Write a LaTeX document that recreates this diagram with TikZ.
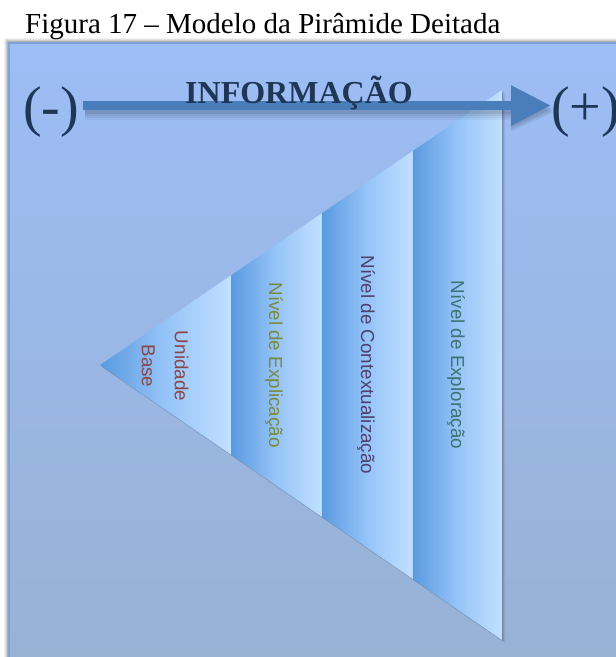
\documentclass[tikz,border=0pt]{standalone}
\usepackage{fontspec}
\setmainfont{Liberation Serif}
\newfontfamily\labelsans{Liberation Sans}
\usetikzlibrary{calc,arrows.meta}

\definecolor{paneltop}{HTML}{9CBDF6}
\definecolor{panelmid}{HTML}{8EABDB}
\definecolor{panelbot}{HTML}{98B2D4}
\definecolor{panelrim}{HTML}{7FA2D8}
\definecolor{stripedark}{HTML}{5A9AE0}
\definecolor{stripemid}{HTML}{96C4F8}
\definecolor{stripelight}{HTML}{C2E0FF}
\definecolor{arrowblue}{HTML}{4A7EBB}
\definecolor{navy}{HTML}{1F3756}
\definecolor{unitcol}{HTML}{8A4646}
\definecolor{explcol}{HTML}{7A8A3C}
\definecolor{contcol}{HTML}{4F4070}
\definecolor{explorcol}{HTML}{3F7272}

\tikzset{
  stripe/.style={left color=stripedark, right color=stripelight, middle color=stripemid},
  levellabel/.style={font=\labelsans\fontsize{18.8}{22}\selectfont, rotate=-90, inner sep=0pt},
  signlabel/.style={font=\fontsize{56}{60}\selectfont, text=navy, inner sep=0pt, anchor=base west},
  infoarrow/.style={draw=arrowblue, line width=9pt,
    -{Triangle[length=40pt,width=38pt]}},
}

\begin{document}
\begin{tikzpicture}[x=1pt,y=-1pt]
  \useasboundingbox (0,0) rectangle (616,657);
  \fill[white] (0,0) rectangle (616,657);

  % caption
  \node[anchor=base west, inner sep=0pt, font=\fontsize{29}{33}\selectfont] (caption)
    at (25,33) {Figura 17 -- Modelo da Pirâmide Deitada};

  % panel with soft outer shadow
  \foreach \o/\a in {4/0.05,3/0.07,2/0.09,1/0.12}
    \fill[black, opacity=\a] (8-\o,42-\o) rectangle (620,660);
  \shade[top color=paneltop, middle color=panelmid, bottom color=panelbot]
    (8,42) rectangle (620,660);
  \draw[panelrim, line width=1.6pt] (620,42.8) -- (8.8,42.8) -- (8.8,660);

  % lying pyramid: apex on the left, base on the right
  \coordinate (apex) at (100,365);
  \coordinate (top) at (502,90);
  \coordinate (bot) at (502,640);
  \foreach \o/\a in {3/0.06,2/0.08,1/0.12}
    \fill[black, opacity=\a] ([xshift=\o pt,yshift=-\o pt]apex)
      -- ([xshift=\o pt,yshift=-\o pt]top) -- ([xshift=\o pt,yshift=-\o pt]bot) -- cycle;

  \coordinate (t1) at ($(apex)!0.3259!(top)$);
  \coordinate (b1) at ($(apex)!0.3259!(bot)$);
  \coordinate (t2) at ($(apex)!0.5522!(top)$);
  \coordinate (b2) at ($(apex)!0.5522!(bot)$);
  \coordinate (t3) at ($(apex)!0.7786!(top)$);
  \coordinate (b3) at ($(apex)!0.7786!(bot)$);

  \shade[stripe] (apex) -- (t1) -- (b1) -- cycle;
  \shade[stripe] (t1) -- (t2) -- (b2) -- (b1) -- cycle;
  \shade[stripe] (t2) -- (t3) -- (b3) -- (b2) -- cycle;
  \shade[stripe] (t3) -- (top) -- (bot) -- (b3) -- cycle;

  % level labels
  \node[levellabel, text=unitcol, align=center,
        font=\labelsans\fontsize{18.8}{33}\selectfont] (unit) at (165,366) {Unidade\\Base};
  \node[levellabel, text=explcol] (expl) at (274,365) {Nível de Explicação};
  \node[levellabel, text=contcol] (cont) at (366,365) {Nível de Contextualização};
  \node[levellabel, text=explorcol] (explor) at (456,365) {Nível de Exploração};

  % information axis
  \node[signlabel] (minus) at (23,125) {(-)};
  \node[signlabel] (plus) at (551,125) {(+)};

  % arrow shadow
  \foreach \w/\a in {18/0.04,14/0.05,10/0.06,6/0.07}
    \draw[black, opacity=\a, line width=\w pt]
      ([xshift=6pt,yshift=1pt]minus.east) -- ([xshift=-30pt,yshift=1pt]plus.west);
  \foreach \s/\a in {7/0.06,5/0.07,3/0.08}
    \fill[black, opacity=\a] ([xshift=-40pt,yshift=-\s pt+25pt]plus.west)
      -- ([xshift=2pt,yshift=-\s pt+6pt]plus.west)
      -- ([xshift=-40pt,yshift=-\s pt-13pt]plus.west) -- cycle;

  \draw[infoarrow] ([xshift=4pt,yshift=6pt]minus.east) -- ([yshift=6pt]plus.west);

  \node[anchor=base, inner sep=0pt, text=navy, font=\bfseries\fontsize{32}{36}\selectfont]
    (info) at (299,103) {INFORMAÇÃO};
\end{tikzpicture}
\end{document}
